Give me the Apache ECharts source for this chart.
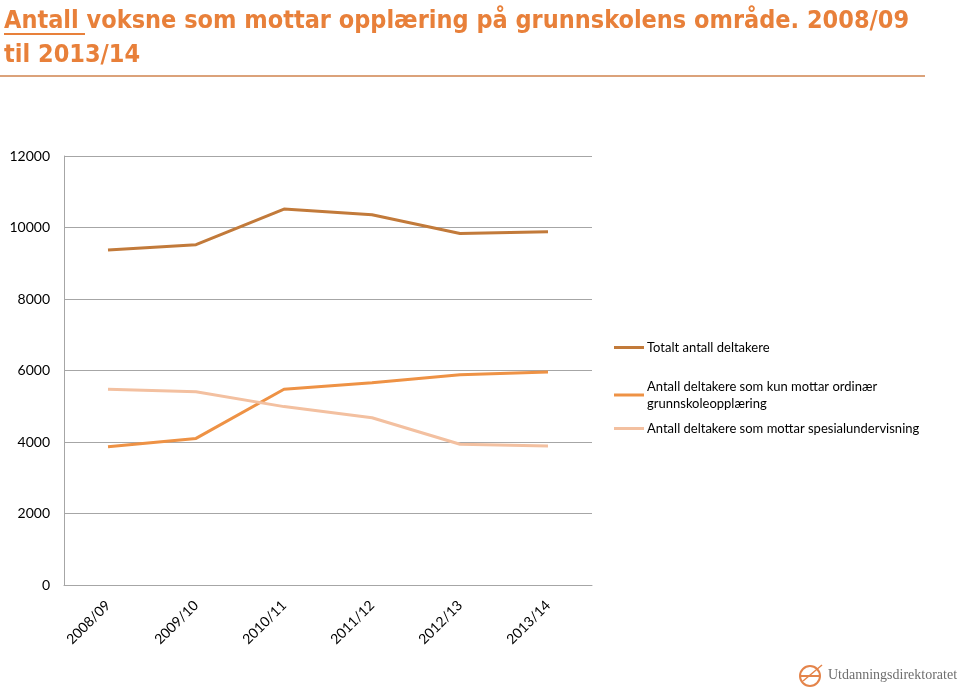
<!DOCTYPE html>
<html>
<head>
<meta charset="utf-8">
<script src="https://cdn.jsdelivr.net/npm/echarts@6/dist/echarts.min.js"></script>
<style>
html,body{margin:0;padding:0;background:#fff;}
#chart{width:960px;height:691px;}
</style>
</head>
<body>
<div id="chart"></div>
<script>
const categories = ['2008/09','2009/10','2010/11','2011/12','2012/13','2013/14'];
const totalt = [9370, 9520, 10517, 10355, 9830, 9880];
const ordinaer = [3870, 4100, 5474, 5659, 5883, 5958];
const spesial = [5474, 5407, 4990, 4680, 3936, 3890];
const yTicks = [0, 2000, 4000, 6000, 8000, 10000, 12000];
const seriesNames = ['Totalt antall deltakere', 'Antall deltakere som kun mottar ordinær grunnskoleopplæring', 'Antall deltakere som mottar spesialundervisning'];
const titleText = 'Antall voksne som mottar opplæring på grunnskolens område. 2008/09\ntil 2013/14';
const logoText = 'Utdanningsdirektoratet';

const chart = echarts.init(document.getElementById('chart'));
const colors = ['#C27A3A', '#EE9245', '#F3C0A0'];
const legendText = {fontFamily: 'Lato', fontSize: 13, color: '#000', lineHeight: 17, padding: [0,0,0,-2]};
chart.setOption({
  animation: false,
  title: {
    text: titleText,
    left: 4, top: 4, padding: 0,
    textStyle: {fontFamily: 'DejaVu Sans Condensed', fontWeight: 'bold', fontSize: 25, color: '#E8803A', lineHeight: 34}
  },
  graphic: [
    {type: 'line', shape: {x1: 4, y1: 34, x2: 85, y2: 34}, style: {stroke: '#E8803A', lineWidth: 2}},
    {type: 'line', shape: {x1: 0, y1: 76, x2: 925, y2: 76}, style: {stroke: '#DBA27A', lineWidth: 2}},
    {type: 'circle', shape: {cx: 810, cy: 676, r: 10}, style: {fill: 'none', stroke: '#E4844A', lineWidth: 2}},
    {type: 'line', shape: {x1: 800, y1: 676, x2: 820, y2: 676}, style: {stroke: '#E4844A', lineWidth: 2}},
    {type: 'line', shape: {x1: 803, y1: 681, x2: 822, y2: 665}, style: {stroke: '#E4844A', lineWidth: 1.5}},
    {type: 'text', left: 828, top: 668, style: {text: logoText, fontFamily: 'Liberation Serif', fontSize: 14, fill: '#6E6E6E'}}
  ],
  grid: {left: 64, top: 156, right: 368, bottom: 106},
  legend: [{
    orient: 'vertical', left: 614, top: 339, padding: 0,
    itemWidth: 30, itemHeight: 3,
    icon: 'rect',
    data: [seriesNames[0]],
    textStyle: legendText
  }, {
    orient: 'vertical', left: 614, top: 378, padding: 0,
    itemWidth: 30, itemHeight: 3, itemGap: 8,
    icon: 'rect',
    data: [seriesNames[1], seriesNames[2]],
    formatter: function (n) { return n === seriesNames[1] ? 'Antall deltakere som kun mottar ordinær\ngrunnskoleopplæring' : n; },
    textStyle: legendText
  }],
  xAxis: {
    type: 'category', data: categories, boundaryGap: true,
    axisLine: {lineStyle: {color: '#A6A6A6'}},
    axisTick: {show: false},
    axisLabel: {rotate: 45, fontFamily: 'Lato', fontSize: 14, color: '#000', margin: 18, interval: 0}
  },
  yAxis: {
    type: 'value', min: yTicks[0], max: yTicks[yTicks.length-1], interval: 2000,
    axisLine: {show: true, lineStyle: {color: '#A6A6A6'}},
    axisTick: {show: false},
    splitLine: {lineStyle: {color: '#A6A6A6'}},
    axisLabel: {fontFamily: 'Lato', fontSize: 14, color: '#000', margin: 14, formatter: function (v) { return String(v); }}
  },
  series: [
    {name: seriesNames[0], type: 'line', data: totalt, showSymbol: false, lineStyle: {width: 3, color: colors[0]}, itemStyle: {color: colors[0]}},
    {name: seriesNames[1], type: 'line', data: ordinaer, showSymbol: false, lineStyle: {width: 3, color: colors[1]}, itemStyle: {color: colors[1]}},
    {name: seriesNames[2], type: 'line', data: spesial, showSymbol: false, lineStyle: {width: 3, color: colors[2]}, itemStyle: {color: colors[2]}}
  ]
});
</script>
</body>
</html>
